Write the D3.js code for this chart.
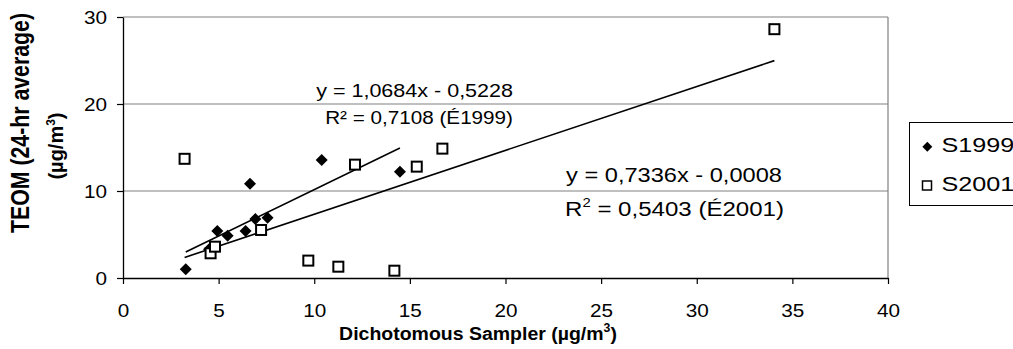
<!DOCTYPE html>
<html><head><meta charset="utf-8">
<script src="https://cdn.jsdelivr.net/npm/d3@7"></script>
<style>
body{margin:0;background:#fff}
svg{display:block}
text{font-family:"Liberation Sans",Arial,sans-serif;fill:#000}
</style>
</head><body>
<svg id="c" width="1013" height="349"></svg>
<script>
// ---- data ----
const xTicks = [0, 5, 10, 15, 20, 25, 30, 35, 40];
const yTicks = [0, 10, 20, 30];
const seriesNames = ["S1999", "S2001"];
const s1999X = [3.28, 4.5, 4.93, 5.47, 6.41, 6.64, 6.92, 7.56, 10.39, 14.48];
const s1999Y = [1.0, 3.3, 5.4, 4.86, 5.4, 10.84, 6.78, 6.93, 13.56, 12.22];
const s2001X = [3.22, 4.58, 4.81, 7.22, 9.69, 11.26, 12.13, 14.19, 15.36, 16.7, 34.06];
const s2001Y = [13.7, 2.84, 3.6, 5.52, 2.0, 1.3, 13.03, 0.84, 12.8, 14.87, 28.6];
const trend1999 = [1.0684, -0.5228];
const trend2001 = [0.7336, -0.0008];
const xTitle = "Dichotomous Sampler (µg/m";
const yTitle1 = "TEOM (24-hr average)";
const yTitle2 = "(µg/m";

// ---- layout ----
const svg = d3.select("#c");
const X = d3.scaleLinear().domain([0, 40]).range([123, 888]);
const Y = d3.scaleLinear().domain([0, 30]).range([278, 17]);

function fitX(t, target){ const w = t.node().getBBox().width; return target / w; }

// gridlines
svg.append("g").selectAll("line").data(yTicks.filter(d => d > 0)).join("line")
  .attr("x1", X(0)).attr("x2", X(40)).attr("y1", d => Y(d)).attr("y2", d => Y(d))
  .attr("stroke", "#808080").attr("stroke-width", 1.2);
// right border
svg.append("line").attr("x1", X(40)).attr("x2", X(40)).attr("y1", Y(30)).attr("y2", Y(0))
  .attr("stroke", "#808080").attr("stroke-width", 1.2);

// axes
const tickScale = 1.12;
const gx = svg.append("g").attr("transform", `translate(0,${Y(0)})`)
  .call(d3.axisBottom(X).tickValues(xTicks).tickSize(6).tickSizeOuter(0).tickFormat(d3.format("d")));
gx.select(".domain").attr("stroke", "#000").attr("stroke-width", 1.3);
gx.selectAll(".tick line").attr("stroke", "#000").attr("stroke-width", 1.2);
gx.selectAll(".tick text").attr("font-size", 18.5).attr("dy", 0).attr("y", 39)
  .attr("transform", `scale(${tickScale},1)`).style("font-family", '"Liberation Sans",Arial,sans-serif');

const gy = svg.append("g").attr("transform", `translate(${X(0)},0)`)
  .call(d3.axisLeft(Y).tickValues(yTicks).tickSize(6).tickSizeOuter(0).tickFormat(d3.format("d")));
gy.select(".domain").attr("stroke", "#000").attr("stroke-width", 1.3);
gy.selectAll(".tick line").attr("stroke", "#000").attr("stroke-width", 1.2);
gy.selectAll(".tick text").attr("font-size", 18.5).attr("x", -16 / tickScale).attr("dy", "0.36em")
  .attr("transform", `scale(${tickScale},1)`).style("font-family", '"Liberation Sans",Arial,sans-serif');

// trendlines
const trends = [
  {c: trend1999, xs: s1999X},
  {c: trend2001, xs: s2001X}
];
svg.append("g").selectAll("line").data(trends).join("line")
  .attr("x1", d => X(d3.min(d.xs))).attr("y1", d => Y(d.c[0] * d3.min(d.xs) + d.c[1]))
  .attr("x2", d => X(d3.max(d.xs))).attr("y2", d => Y(d.c[0] * d3.max(d.xs) + d.c[1]))
  .attr("stroke", "#000").attr("stroke-width", 1.6);

// markers
const p1999 = s1999X.map((x, i) => [x, s1999Y[i]]);
const p2001 = s2001X.map((x, i) => [x, s2001Y[i]]);
svg.append("g").selectAll("path").data(p1999).join("path")
  .attr("d", d3.symbol().type(d3.symbolSquare).size(72))
  .attr("transform", d => `translate(${X(d[0])},${Y(d[1])}) rotate(45)`)
  .attr("fill", "#000");
svg.append("g").selectAll("rect").data(p2001).join("rect")
  .attr("x", d => X(d[0]) - 5).attr("y", d => Y(d[1]) - 5)
  .attr("width", 10).attr("height", 10)
  .attr("fill", "#fff").attr("stroke", "#000").attr("stroke-width", 2);

// annotations
function label(x, y, anchor, size, target, build){
  const t = svg.append("text").attr("font-size", size).attr("text-anchor", anchor);
  build(t);
  const s = target ? fitX(t, target) : 1;
  t.attr("transform", `translate(${x},${y}) scale(${s},1)`);
  return t;
}
const fmt = v => Math.abs(v).toFixed(4).replace(".", ",");
label(513, 96.7, "end", 18.5, 197, t => t.text(`y = ${fmt(trend1999[0])}x - ${fmt(trend1999[1])}`));
label(513, 123.5, "end", 18.5, 188, t => t.text("R² = 0,7108 (É1999)"));
label(674, 181.7, "middle", 21, 216, t => t.text(`y = ${fmt(trend2001[0])}x - ${fmt(trend2001[1])}`));
label(674.5, 215.7, "middle", 21, 219, t => {
  t.append("tspan").text("R");
  t.append("tspan").attr("font-size", 13).attr("dy", -9).text("2");
  t.append("tspan").attr("dy", 9).text(" = 0,5403 (É2001)");
});

// x title
label(478, 340, "middle", 19, 278, t => {
  t.attr("font-weight", "bold");
  t.append("tspan").text(xTitle);
  t.append("tspan").attr("font-size", 12).attr("dy", -8).text("3");
  t.append("tspan").attr("dy", 8).text(")");
});

// y title (rotated)
svg.append("text").attr("font-size", 20).attr("font-weight", "bold")
  .attr("text-anchor", "middle")
  .attr("textLength", 220).attr("lengthAdjust", "spacingAndGlyphs")
  .attr("transform", `translate(28.5,123) scale(1.25,1) rotate(-90)`)
  .text(yTitle1);
{
  const t2 = svg.append("text").attr("font-size", 20).attr("font-weight", "bold")
    .attr("text-anchor", "middle");
  t2.append("tspan").text(yTitle2);
  t2.append("tspan").attr("font-size", 12).attr("dy", -8).text("3");
  t2.append("tspan").attr("dy", 8).text(")");
  t2.attr("transform", `translate(63,146) rotate(-90)`);
}

// legend
svg.append("rect").attr("x", 909.5).attr("y", 122.5).attr("width", 120).attr("height", 83)
  .attr("fill", "#fff").attr("stroke", "#000").attr("stroke-width", 1);
const lg = svg.append("g");
lg.append("path").attr("d", d3.symbol().type(d3.symbolSquare).size(50))
  .attr("transform", "translate(927.3,146.7) rotate(45)").attr("fill", "#000");
lg.append("rect").attr("x", 922.5).attr("y", 181).attr("width", 9).attr("height", 9)
  .attr("fill", "#fff").attr("stroke", "#000").attr("stroke-width", 1.5);
[[seriesNames[0], 151.5], [seriesNames[1], 190.5]].forEach(([n, y]) => {
  svg.append("text").attr("font-size", 21).attr("text-anchor", "start")
    .attr("transform", `translate(941.5,${y}) scale(1.2,1)`).text(n);
});
</script>
</body></html>
